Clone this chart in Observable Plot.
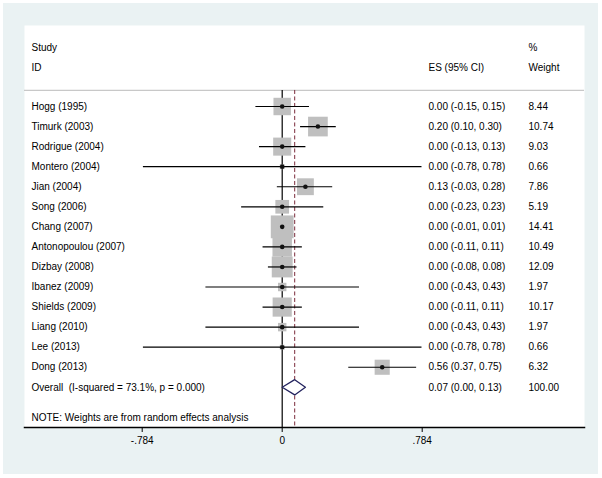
<!DOCTYPE html>
<html>
<head>
<meta charset="utf-8">
<script src="https://cdn.jsdelivr.net/npm/d3@7"></script>
<script src="https://cdn.jsdelivr.net/npm/@observablehq/plot@0.6"></script>
<style>
  html, body { margin: 0; padding: 0; background: #ffffff; }
  #chart svg { display: block; box-shadow: inset 3px 3px 0 #ffffff, inset -4px -4px 0 #ffffff; }
</style>
</head>
<body>
<div id="chart"></div>
<script>
// ---- data ----
const studies = ["Hogg (1995)", "Timurk (2003)", "Rodrigue (2004)", "Montero (2004)", "Jian (2004)",
  "Song (2006)", "Chang (2007)", "Antonopoulou (2007)", "Dizbay (2008)", "Ibanez (2009)",
  "Shields (2009)", "Liang (2010)", "Lee (2013)", "Dong (2013)"];
const es    = [0.00, 0.20, 0.00, 0.00, 0.13, 0.00, 0.00, 0.00, 0.00, 0.00, 0.00, 0.00, 0.00, 0.56];
const lower = [-0.15, 0.10, -0.13, -0.78, -0.03, -0.23, -0.01, -0.11, -0.08, -0.43, -0.11, -0.43, -0.78, 0.37];
const upper = [0.15, 0.30, 0.13, 0.78, 0.28, 0.23, 0.01, 0.11, 0.08, 0.43, 0.11, 0.43, 0.78, 0.75];
const weights = [8.44, 10.74, 9.03, 0.66, 7.86, 5.19, 14.41, 10.49, 12.09, 1.97, 10.17, 1.97, 0.66, 6.32];
const overallLabel = "Overall  (I-squared = 73.1%, p = 0.000)";
const overallES = 0.07, overallLo = 0.00, overallHi = 0.13, overallWeight = 100.00;
const noteText = "NOTE: Weights are from random effects analysis";
const xTicks = [-0.784, 0, 0.784];
const xTickLabels = ["-.784", "0", ".784"];

// ---- derived tables ----
const fmt = v => v.toFixed(2);
const rows = studies.map((s, i) => ({
  study: s, row: i, es: es[i], lo: lower[i], hi: upper[i], w: weights[i],
  esText: `${fmt(es[i])} (${fmt(lower[i])}, ${fmt(upper[i])})`, wText: fmt(weights[i])
}));
const overallRow = studies.length;
const overall = {
  study: overallLabel, row: overallRow, es: overallES, lo: overallLo, hi: overallHi,
  esText: `${fmt(overallES)} (${fmt(overallLo)}, ${fmt(overallHi)})`, wText: fmt(overallWeight)
};
const textRows = [...rows, overall];
const dh = 0.38;
const diamond = [
  {x: overallLo, y: overallRow}, {x: overallES, y: overallRow - dh},
  {x: overallHi, y: overallRow}, {x: overallES, y: overallRow + dh},
  {x: overallLo, y: overallRow}
];
const headerTop = -2.95, headerBottom = -1.95, sepRow = -0.8, bottomRow = 16, noteRow = 15.5;

const txt = "#000";
const chart = Plot.plot({
  width: 602,
  height: 478,
  marginLeft: 24,
  marginRight: 18,
  marginTop: 25,
  marginBottom: 51,
  style: {background: "#eaf2f3", fontFamily: "'Liberation Sans', Arial, sans-serif", fontSize: "10px", color: txt},
  x: {domain: [-0.784, 0.784], range: [141.7, 421.7]},
  y: {domain: [0, 14], range: [106, 386.8], axis: null},
  r: {type: "sqrt", domain: [0, 16], range: [0, 13.56]},
  marks: [
    Plot.frame({fill: "white", stroke: null}),
    // header separator
    Plot.ruleY([sepRow], {stroke: "#c8c8c8", strokeWidth: 1.2}),
    // reference lines
    Plot.ruleX([0], {y1: sepRow, y2: bottomRow, stroke: "#000", strokeWidth: 1.2}),
    Plot.ruleX([overallES], {y1: sepRow, y2: bottomRow, stroke: "#7a2a3a", strokeWidth: 1, strokeDasharray: "4,2.5"}),
    // weight boxes
    Plot.dot(rows, {x: "es", y: "row", r: "w", symbol: "square", fill: "#bfbfbf", stroke: null}),
    // CIs
    Plot.link(rows, {x1: "lo", x2: "hi", y1: "row", y2: "row", stroke: "#000", strokeWidth: 1.2}),
    Plot.dot(rows, {x: "es", y: "row", r: 2.3, fill: "#111", stroke: null}),
    // overall diamond
    Plot.line(diamond, {x: "x", y: "y", stroke: "#23235e", strokeWidth: 1.3, fill: "white", curve: "linear"}),
    // text columns
    Plot.text(textRows, {y: "row", text: "study", frameAnchor: "left", dx: 7, textAnchor: "start", fill: txt}),
    Plot.text(textRows, {y: "row", text: "esText", frameAnchor: "left", dx: 404, textAnchor: "start", fill: txt}),
    Plot.text(textRows, {y: "row", text: "wText", frameAnchor: "left", dx: 504, textAnchor: "start", fill: txt}),
    // headers
    Plot.text(["Study"], {y: [headerTop], text: d => d, frameAnchor: "left", dx: 7, textAnchor: "start", fill: txt}),
    Plot.text(["ID"], {y: [headerBottom], text: d => d, frameAnchor: "left", dx: 7, textAnchor: "start", fill: txt}),
    Plot.text(["ES (95% CI)"], {y: [headerBottom], text: d => d, frameAnchor: "left", dx: 404, textAnchor: "start", fill: txt}),
    Plot.text(["%"], {y: [headerTop], text: d => d, frameAnchor: "left", dx: 504, textAnchor: "start", fill: txt}),
    Plot.text(["Weight"], {y: [headerBottom], text: d => d, frameAnchor: "left", dx: 504, textAnchor: "start", fill: txt}),
    // note
    Plot.text([noteText], {y: [noteRow], text: d => d, frameAnchor: "left", dx: 7, textAnchor: "start", fill: txt}),
    // axis
    Plot.frame({anchor: "bottom", stroke: "#000", strokeWidth: 1.5}),
    Plot.axisX({ticks: xTicks, tickFormat: (d, i) => xTickLabels[i], tickSize: 5, tickPadding: 4, stroke: "#000", fill: txt, label: null})
  ]
});
document.getElementById("chart").appendChild(chart);
</script>
</body>
</html>
